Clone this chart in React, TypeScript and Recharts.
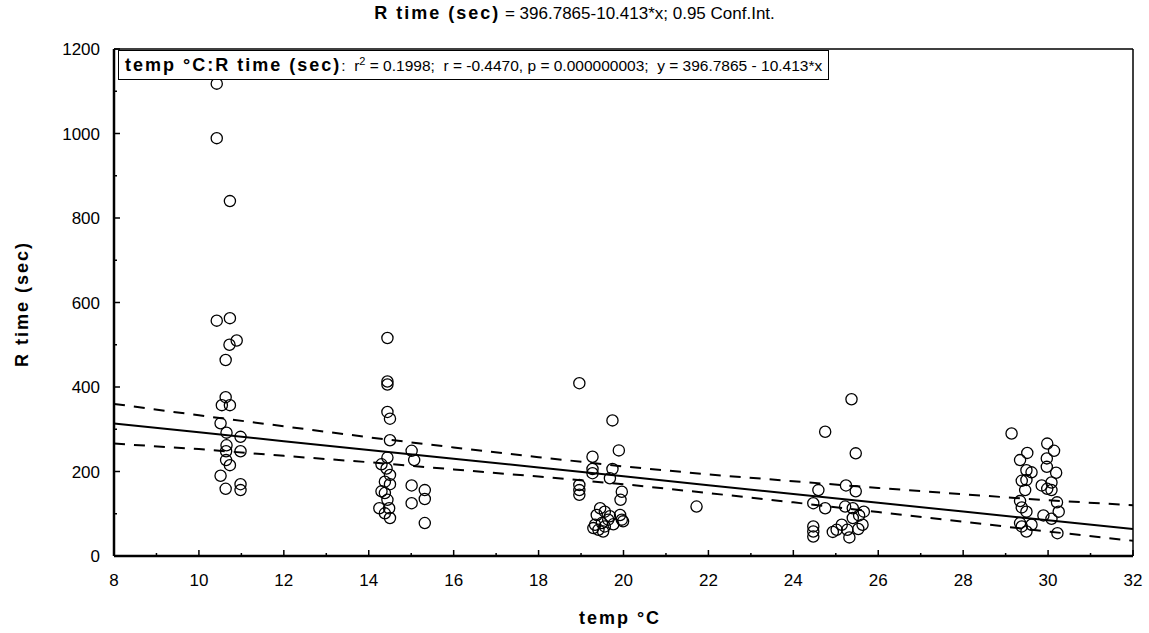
import React from 'react';
import { ScatterChart, Scatter, XAxis, YAxis, ReferenceLine } from 'recharts';

// ---- data ----
const tempC = [
  10.42, 10.42, 10.73, 10.42, 10.73, 10.72, 10.89, 10.63, 10.63, 10.54, 10.73, 10.51, 10.65, 10.98, 10.65, 10.64, 10.98, 10.64, 10.73, 10.51, 10.63, 10.98, 10.98,
  14.44, 14.44, 14.44, 14.44, 14.5, 14.5, 14.44, 14.3, 14.42, 14.5, 14.38, 14.5, 14.3, 14.38, 14.44, 14.48, 14.25, 14.38, 14.5, 15.01, 15.07, 15.01, 15.01, 15.32, 15.32, 15.32,
  18.96, 19.74, 19.89, 19.27, 19.27, 19.27, 19.74, 19.68, 18.96, 18.96, 18.96, 19.96, 19.93, 21.72,
  19.45, 19.56, 19.37, 19.68, 19.92, 19.33, 19.49, 19.56, 19.76, 19.99, 19.41, 19.52, 19.29, 19.64, 19.96,
  25.37, 24.75, 25.47, 24.59, 25.24, 25.47, 24.47, 24.75, 25.22, 25.4, 25.66, 25.55, 25.4, 25.63, 25.14, 25.02, 24.93, 25.27, 25.53, 25.32, 24.47, 24.47, 24.47,
  29.14, 29.98, 30.14, 29.51, 29.34, 29.97, 29.97, 29.49, 29.61, 30.19, 29.38, 29.49, 30.08, 29.85, 29.46, 29.98, 30.08, 29.34, 30.21, 29.38, 29.49, 30.25, 29.89, 29.34, 29.61, 30.08, 29.49, 30.22, 29.38,
];
const rTime = [
  1118, 989, 840, 557, 563, 500, 510, 464, 376, 357, 357, 314, 292, 282, 262, 248, 248, 227, 215, 190, 159, 170, 156,
  516, 413, 406, 341, 325, 274, 233, 217, 207, 192, 176, 170, 153, 149, 133, 113, 113, 101, 90, 249, 227, 167, 125, 156, 135, 78,
  409, 321, 250, 235, 206, 196, 206, 184, 168, 156, 145, 152, 133, 117,
  113, 105, 97, 94, 97, 74, 78, 70, 75, 82, 62, 58, 66, 86, 86,
  371, 294, 243, 156, 167, 153, 125, 113, 117, 113, 105, 96, 90, 74, 74, 62, 57, 62, 64, 44, 70, 58, 46,
  290, 266, 249, 244, 227, 231, 211, 203, 198, 197, 178, 180, 174, 167, 156, 159, 156, 130, 127, 115, 105, 105, 96, 78, 74, 88, 58, 54, 70,
];

const fitX = [8, 10, 12, 14, 16, 18, 20, 22, 24, 26, 28, 30, 32];
const fitY = [313.5, 292.7, 271.8, 251.0, 230.2, 209.4, 188.5, 167.7, 146.9, 126.0, 105.2, 84.4, 63.6];
const upperY = [360, 333, 307, 281, 257, 234, 212, 193, 177, 161, 146, 132, 120];
const lowerY = [266, 253, 237, 222, 205, 188, 170, 149, 127, 104, 81, 58, 36];

const xTicks = [8, 9, 10, 11, 12, 13, 14, 15, 16, 17, 18, 19, 20, 21, 22, 23, 24, 25, 26, 27, 28, 29, 30, 31, 32];
const yTicks = [0, 100, 200, 300, 400, 500, 600, 700, 800, 900, 1000, 1100, 1200];

const titleBold = 'R time (sec)';
const titleRest = ' = 396.7865-10.413*x; 0.95 Conf.Int.';
const xLabel = 'temp °C';
const yLabel = 'R time (sec)';

// ---- build tables ----
const points = tempC.map((t, i) => ({ x: t, y: rTime[i] }));
const fitLine = fitX.map((x, i) => ({ x, y: fitY[i] }));
const upperLine = fitX.map((x, i) => ({ x, y: upperY[i] }));
const lowerLine = fitX.map((x, i) => ({ x, y: lowerY[i] }));

const FONT = '"Liberation Sans", Arial, sans-serif';
const X_MARGIN = 16;
const Y_MARGIN = 14;
const boldStyle: React.CSSProperties = { fontWeight: 'bold', letterSpacing: '2px', fontSize: 18 };

const XTick = (p: any) => {
  const v = p.payload.value;
  const major = v % 2 === 0;
  const axisY = p.y - X_MARGIN;
  return (
    <g>
      <line x1={p.x} x2={p.x} y1={axisY} y2={axisY - (major ? 6 : 3)} stroke="#000" strokeWidth={1.5} />
      {major && (
        <text x={p.x} y={p.y} dy={14} textAnchor="middle" fontFamily={FONT} fontSize={17} fill="#000">
          {v}
        </text>
      )}
    </g>
  );
};

const YTick = (p: any) => {
  const v = p.payload.value;
  const major = v % 200 === 0;
  const axisX = p.x + Y_MARGIN;
  return (
    <g>
      <line x1={axisX} x2={axisX + (major ? 6 : 3)} y1={p.y} y2={p.y} stroke="#000" strokeWidth={1.5} />
      {major && (
        <text x={p.x} y={p.y} dy={6} textAnchor="end" fontFamily={FONT} fontSize={17} fill="#000">
          {v}
        </text>
      )}
    </g>
  );
};

const Circle = (p: any) => (
  <circle cx={p.cx} cy={p.cy} r={5.6} fill="none" stroke="#000" strokeWidth={1.3} />
);
const NoShape = () => <g />;

export default function App() {
  return (
    <div style={{ position: 'absolute', left: 0, top: 0, width: 1149, height: 633, background: '#fff', fontFamily: FONT, color: '#000' }}>
      <ScatterChart
        width={1149}
        height={633}
        margin={{ top: 49, right: 16, bottom: 37, left: 0 }}
        style={{ position: 'absolute', left: 0, top: 0 }}
      >
        <XAxis
          type="number"
          dataKey="x"
          domain={[8, 32]}
          ticks={xTicks}
          interval={0}
          allowDataOverflow
          height={40}
          tickSize={0}
          tickMargin={X_MARGIN}
          tickLine={false}
          tick={<XTick />}
          axisLine={{ stroke: '#000', strokeWidth: 2.5 }}
        />
        <YAxis
          type="number"
          dataKey="y"
          domain={[0, 1200]}
          ticks={yTicks}
          interval={0}
          allowDataOverflow
          width={114}
          tickSize={0}
          tickMargin={Y_MARGIN}
          tickLine={false}
          tick={<YTick />}
          axisLine={{ stroke: '#000', strokeWidth: 2.5 }}
        />
        <ReferenceLine x={32} stroke="#000" strokeWidth={1.5} />
        <ReferenceLine y={1200} stroke="#000" strokeWidth={1.5} />
        <Scatter data={points} shape={<Circle />} isAnimationActive={false} />
        <Scatter
          data={fitLine}
          line={{ stroke: '#000', strokeWidth: 2 }}
          shape={<NoShape />}
          isAnimationActive={false}
        />
        <Scatter
          data={upperLine}
          line={{ stroke: '#000', strokeWidth: 2, strokeDasharray: '11 9' }}
          shape={<NoShape />}
          isAnimationActive={false}
        />
        <Scatter
          data={lowerLine}
          line={{ stroke: '#000', strokeWidth: 2, strokeDasharray: '11 9' }}
          shape={<NoShape />}
          isAnimationActive={false}
        />
      </ScatterChart>

      <div
        style={{
          position: 'absolute',
          left: 0,
          width: 1149,
          top: 3,
          textAlign: 'center',
          fontSize: 17,
          lineHeight: '20px',
          whiteSpace: 'nowrap',
        }}
      >
        <span style={boldStyle}>{titleBold}</span>
        {titleRest}
      </div>

      <div
        style={{
          position: 'absolute',
          left: 118,
          top: 50,
          height: 28,
          lineHeight: '28px',
          padding: '0 6px',
          border: '1.5px solid #000',
          background: '#fff',
          fontSize: 15.5,
          whiteSpace: 'nowrap',
        }}
      >
        <span style={boldStyle}>temp °C:R time (sec)</span>:&nbsp; r<sup style={{ fontSize: 11, lineHeight: 0 }}>2</sup> = 0.1998;&nbsp; r = -0.4470, p = 0.000000003;&nbsp; y = 396.7865 - 10.413*x
      </div>

      <div
        style={{
          position: 'absolute',
          left: 22,
          top: 304,
          transform: 'translate(-50%, -50%) rotate(-90deg)',
          whiteSpace: 'nowrap',
          ...boldStyle,
        }}
      >
        {yLabel}
      </div>

      <div
        style={{
          position: 'absolute',
          left: 620,
          top: 618,
          transform: 'translate(-50%, -50%)',
          whiteSpace: 'nowrap',
          ...boldStyle,
        }}
      >
        {xLabel}
      </div>
    </div>
  );
}
